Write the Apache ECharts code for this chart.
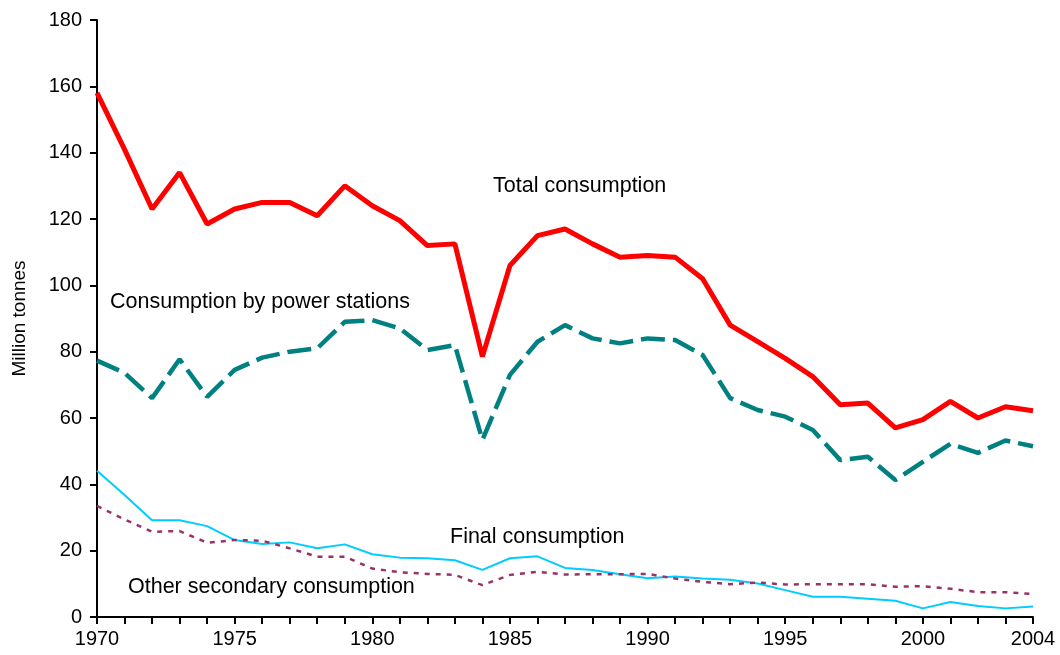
<!DOCTYPE html>
<html>
<head>
<meta charset="utf-8">
<script src="https://cdn.jsdelivr.net/npm/echarts@6/dist/echarts.min.js"></script>
<style>
  html, body { margin: 0; padding: 0; background: #fff; }
  #main { width: 1060px; height: 655px; }
</style>
</head>
<body>
<div id="main"></div>
<script>
// years on the x axis
var years = [];
for (var y = 1970; y <= 2004; y++) years.push(String(y));

// million tonnes
var totalConsumption = [158, 141, 123, 134, 118.5, 123, 125, 125, 121, 130, 124, 119.5, 112, 112.5, 78.5,
  106, 115, 117, 112.5, 108.5, 109, 108.5, 102, 88, 83, 78, 72.5, 64, 64.5, 57, 59.5, 65, 60, 63.4, 62.2];
var powerStations = [77.3, 73.6, 66, 77.7, 66.4, 74.5, 78.2, 80, 81, 89, 89.5, 87, 80.5, 82, 53.4,
  73, 83, 88, 84, 82.5, 84, 83.5, 79, 66, 62.4, 60.4, 56.4, 47.3, 48.3, 41.3, 46.8, 52.2, 49.5, 53.2, 51.5];
var finalConsumption = [44.1, 36.8, 29.2, 29.2, 27.4, 23.2, 22, 22.5, 20.7, 21.9, 18.9, 17.9, 17.7, 17.1, 14.2,
  17.7, 18.3, 14.8, 14.2, 12.9, 11.7, 12.2, 11.6, 11.2, 10.1, 8.1, 6.1, 6.1, 5.5, 4.9, 2.6, 4.5, 3.3, 2.6, 3.2];
var otherSecondary = [33.5, 29.4, 25.7, 25.9, 22.4, 23.2, 23, 20.7, 18.2, 18.2, 14.6, 13.5, 13, 12.7, 9.6,
  12.7, 13.6, 12.8, 12.9, 12.9, 13, 11.6, 10.6, 9.9, 10.4, 9.8, 9.9, 9.9, 9.9, 9.1, 9.3, 8.5, 7.5, 7.5, 6.9];

var font = 'Liberation Sans, Arial, sans-serif';

var myChart = echarts.init(document.getElementById('main'));

var option = {
  backgroundColor: '#fff',
  animation: false,
  grid: { left: 97, right: 27, top: 20, bottom: 38 },
  xAxis: {
    type: 'category',
    data: years,
    boundaryGap: false,
    axisLine: { lineStyle: { color: '#000', width: 2 } },
    axisTick: { interval: 0, length: 7, lineStyle: { color: '#000', width: 2 } },
    axisLabel: {
      interval: function (i, v) { return +v % 5 === 0 || v === '2004'; },
      color: '#000', fontSize: 20, fontFamily: font, margin: 12
    },
    splitLine: { show: false }
  },
  yAxis: {
    type: 'value',
    min: 0,
    max: 180,
    interval: 20,
    name: 'Million tonnes',
    nameLocation: 'middle',
    nameRotate: 90,
    nameGap: 68,
    nameTextStyle: { color: '#000', fontSize: 19, fontFamily: font },
    axisLine: { show: true, lineStyle: { color: '#000', width: 2 } },
    axisTick: { show: true, length: 7, lineStyle: { color: '#000', width: 2 } },
    axisLabel: { color: '#000', fontSize: 20, fontFamily: font, margin: 15 },
    splitLine: { show: false }
  },
  series: [
    {
      name: 'Total consumption',
      type: 'line',
      data: totalConsumption,
      symbol: 'none',
      lineStyle: { color: '#ff0000', width: 5 }
    },
    {
      name: 'Consumption by power stations',
      type: 'line',
      data: powerStations,
      symbol: 'none',
      lineStyle: { color: '#008080', width: 4.5, type: [24, 8] }
    },
    {
      name: 'Final consumption',
      type: 'line',
      data: finalConsumption,
      symbol: 'none',
      lineStyle: { color: '#00ccff', width: 2 }
    },
    {
      name: 'Other secondary consumption',
      type: 'line',
      data: otherSecondary,
      symbol: 'none',
      lineStyle: { color: '#993366', width: 2.5, type: [5, 6] }
    }
  ],
  graphic: [
    { type: 'text', left: 493, top: 175, style: { text: 'Total consumption', fill: '#000', font: '21.5px ' + font } },
    { type: 'text', left: 110, top: 291, style: { text: 'Consumption by power stations', fill: '#000', font: '21.5px ' + font } },
    { type: 'text', left: 450, top: 526, style: { text: 'Final consumption', fill: '#000', font: '21.5px ' + font } },
    { type: 'text', left: 128, top: 576, style: { text: 'Other secondary consumption', fill: '#000', font: '21.5px ' + font } }
  ]
};

myChart.setOption(option);
</script>
</body>
</html>
